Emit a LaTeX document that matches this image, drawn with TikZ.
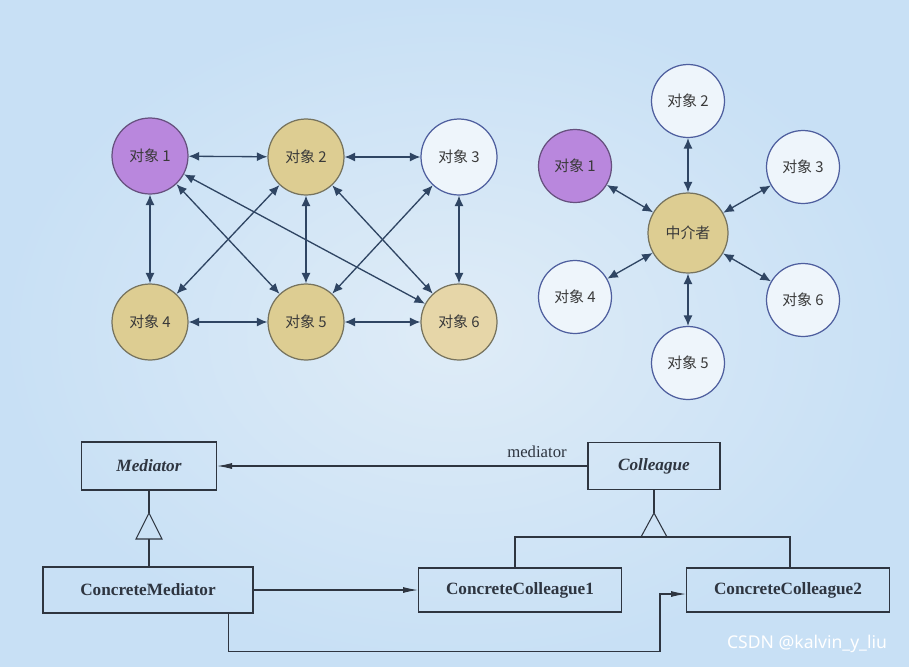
\documentclass[tikz,border=0pt]{standalone}
\usepackage{fontspec}
\setmainfont{Liberation Serif}
\newfontfamily\cjk{Noto Sans CJK SC}
\newfontfamily\wmfont{Noto Sans}
\usepackage{xcolor}
\usepackage{tikz}
\usetikzlibrary{calc,arrows.meta}
\definecolor{bgin}{HTML}{DFECF7}
\definecolor{bgout}{HTML}{C8E0F5}
\definecolor{purp}{HTML}{B987DD}
\definecolor{purpline}{HTML}{66507E}
\definecolor{tan}{HTML}{DDCD92}
\definecolor{tanlight}{HTML}{E6D6A8}
\definecolor{tanline}{HTML}{76735E}
\definecolor{circw}{HTML}{EEF5FB}
\definecolor{circline}{HTML}{4E5E9E}
\definecolor{edge}{HTML}{2F4563}
\definecolor{textc}{HTML}{3A3A3A}
\definecolor{uml}{HTML}{2E3540}
\tikzset{
  obj/.style={circle, draw=circline, fill=circw, line width=0.7pt, minimum size=1.52cm, inner sep=0pt,
    text=textc, font=\cjk\fontsize{8.5}{10}\selectfont},
  objp/.style={obj, draw=purpline, fill=purp},
  objt/.style={obj, draw=tanline, fill=tan},
  dbl/.style={{Latex[length=2.1mm,width=1.8mm]}-{Latex[length=2.1mm,width=1.8mm]}, draw=edge, line width=0.75pt},
  cls/.style={draw=uml, line width=0.6pt, inner sep=0pt, text=uml, font=\bfseries\fontsize{9.8}{11}\selectfont},
  abs/.style={cls, font=\bfseries\itshape\fontsize{9.8}{11}\selectfont},
  link/.style={draw=uml, line width=0.6pt},
  assoc/.style={link, -{Latex[length=3mm,width=1.2mm]}},
  lab/.style={text=uml, font=\fontsize{9.5}{11}\selectfont}
}
\begin{document}
\begin{tikzpicture}[x=0.02cm,y=-0.02cm]
  \useasboundingbox (0,0) rectangle (909,666);
  \shade[inner color=bgin, outer color=bgout] (0,0) rectangle (909,666);

  % every object talks to the others
  \node[objp] (a1) at (150,156) {对象 1};
  \node[objt] (a2) at (306,157) {对象 2};
  \node[obj]  (a3) at (459,157) {对象 3};
  \node[objt] (a4) at (150,322) {对象 4};
  \node[objt] (a5) at (306,322) {对象 5};
  \node[objt,fill=tanlight] (a6) at (459,322) {对象 6};
  \draw[dbl] (a1) -- (a2);
  \draw[dbl] (a2) -- (a3);
  \draw[dbl] (a4) -- (a5);
  \draw[dbl] (a5) -- (a6);
  \draw[dbl] (a1) -- (a4);
  \draw[dbl] (a2) -- (a5);
  \draw[dbl] (a3) -- (a6);
  \draw[dbl] (a1) -- (a5);
  \draw[dbl] (a1) -- (a6);
  \draw[dbl] (a2) -- (a4);
  \draw[dbl] (a2) -- (a6);
  \draw[dbl] (a3) -- (a5);

  % through the mediator
  \node[objt,minimum size=1.6cm,font=\cjk\fontsize{8.5}{10}\selectfont] (m) at (688,233) {中介者};
  \node[objp,minimum size=1.46cm] (b1) at (575,166) {对象 1};
  \node[obj,minimum size=1.46cm]  (b2) at (688,101) {对象 2};
  \node[obj,minimum size=1.46cm]  (b3) at (803,167) {对象 3};
  \node[obj,minimum size=1.46cm]  (b4) at (575,297) {对象 4};
  \node[obj,minimum size=1.46cm]  (b5) at (688,363) {对象 5};
  \node[obj,minimum size=1.46cm]  (b6) at (803,300) {对象 6};
  \draw[dbl] (m) -- (b1);
  \draw[dbl] (m) -- (b2);
  \draw[dbl] (m) -- (b3);
  \draw[dbl] (m) -- (b4);
  \draw[dbl] (m) -- (b5);
  \draw[dbl] (m) -- (b6);

  % class diagram
  \node[abs,minimum width=2.7cm,minimum height=0.96cm] (med) at (149,466) {Mediator};
  \node[abs,minimum width=2.64cm,minimum height=0.94cm] (col) at (654,466) {Colleague};
  \node[cls,minimum width=4.2cm,minimum height=0.92cm] (cmed) at (148,590) {ConcreteMediator};
  \node[cls,minimum width=4.06cm,minimum height=0.88cm] (cc1) at (520,590) {ConcreteColleague1};
  \node[cls,minimum width=4.06cm,minimum height=0.88cm] (cc2) at (788,590) {ConcreteColleague2};

  \draw[assoc] (col.west) -- (med.east);
  \node[lab] (mlab) at (537,452) {mediator};
  \draw[assoc] (cmed.east) -- (cc1.west);
  \coordinate (r1) at ($(cmed.south west)!0.88!(cmed.south east)$);
  \coordinate (r2) at ($(cc2.west)+(-26,4)$);
  \draw[assoc] (r1) -- ++(0,38) -| (r2) -- (cc2.west |- r2);

  % generalisation
  \coordinate (t1) at (149,513);
  \draw[link] (med.south) -- (t1);
  \draw[link] (t1) -- ++(-13,26) -- ++(26,0) -- cycle;
  \draw[link] ($(t1)+(0,26)$) -- (cmed.north -| t1);
  \coordinate (t2) at (654,513);
  \draw[link] (col.south) -- (t2);
  \draw[link] (t2) -- ++(-13,24) -- ++(26,0) -- cycle;
  \coordinate (h1) at (515,537);
  \coordinate (h2) at (790,537);
  \draw[link] (cc1.north -| h1) -- (h1) -- (h2) -- (cc2.north -| h2);

  \node[text=white, font=\wmfont\fontsize{10}{12}\selectfont] (wm) at (807,644) {CSDN @kalvin\_y\_liu};
\end{tikzpicture}
\end{document}
